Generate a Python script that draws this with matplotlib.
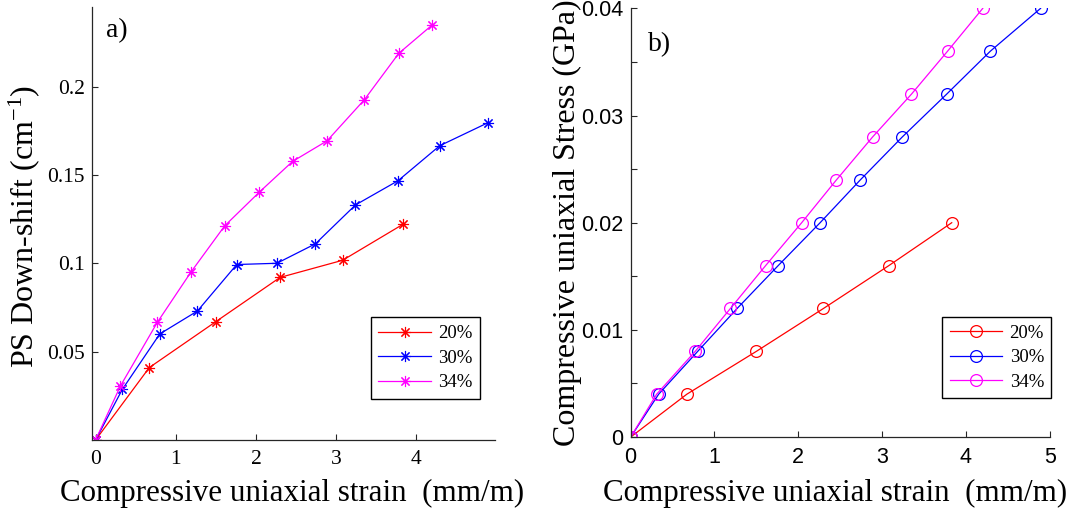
import matplotlib
matplotlib.use("Agg")
import matplotlib.pyplot as plt
from matplotlib.ticker import MultipleLocator

# strain (mm/m) for each porosity sample
strain_20 = [0, 0.67, 1.50, 2.30, 3.08, 3.83]
strain_30 = [0, 0.334, 0.80, 1.27, 1.76, 2.26, 2.74, 3.24, 3.77, 4.29, 4.89]
strain_34 = [0, 0.31, 0.77, 1.19, 1.61, 2.04, 2.455, 2.886, 3.35, 3.78, 4.20]

# a) PS down-shift (cm-1)
shift_20 = [0, 0.041, 0.067, 0.092, 0.1017, 0.122]
shift_30 = [0, 0.0287, 0.060, 0.073, 0.0993, 0.100, 0.111, 0.133, 0.1467, 0.1665, 0.1795]
shift_34 = [0, 0.0306, 0.0666, 0.0951, 0.1212, 0.1402, 0.1576, 0.1693, 0.1925, 0.2188, 0.235]

# b) applied stress (GPa)
stress_20 = [0, 0.004, 0.008, 0.012, 0.016, 0.020]
stress_30 = [0, 0.004, 0.008, 0.012, 0.016, 0.020, 0.024, 0.028, 0.032, 0.036, 0.040]
stress_34 = [0, 0.004, 0.008, 0.012, 0.016, 0.020, 0.024, 0.028, 0.032, 0.036, 0.040]

labels = ['20%', '30%', '34%']
colors = ['#ff0000', '#0000ff', '#ff00ff']

serif = 'Liberation Serif'
sans = 'Liberation Sans'
plt.rcParams['mathtext.fontset'] = 'custom'
plt.rcParams['mathtext.rm'] = serif
plt.rcParams['mathtext.it'] = serif + ':italic'

fig = plt.figure(figsize=(10.72, 5.13), dpi=100)
ax1 = fig.add_axes([0.0858, 0.1423, 0.376, 0.844])
ax2 = fig.add_axes([0.5883, 0.148, 0.391, 0.8357])

asterisk = (8, 2, 0)
for xs, ys, lab, c in zip([strain_20, strain_30, strain_34],
                          [shift_20, shift_30, shift_34], labels, colors):
    ax1.plot(xs, ys, color=c, lw=0.9, marker=asterisk, ms=8, mew=0.8, label=lab)

for xs, ys, lab, c in zip([strain_20, strain_30, strain_34],
                          [stress_20, stress_30, stress_34], labels, colors):
    ax2.plot(xs, ys, color=c, lw=0.9, marker='o', ms=8.5, mfc='none', mew=0.9, label=lab)

axis_col = '#262626'
for ax in (ax1, ax2):
    ax.spines['top'].set_visible(False)
    ax.spines['right'].set_visible(False)
    for s in ('left', 'bottom'):
        ax.spines[s].set_color(axis_col)
        ax.spines[s].set_linewidth(0.9)
    ax.tick_params(direction='in', length=4, width=0.8, color=axis_col, labelsize=15.5)
    ax.tick_params(axis='x', pad=7)
    ax.tick_params(axis='y', pad=5)

# panel a
ax1.set_xlim(-0.045, 4.98)
ax1.set_ylim(0, 0.245)
ax1.set_xticks([0, 1, 2, 3, 4])
ax1.set_yticks([0.05, 0.1, 0.15, 0.2])
ax1.set_yticklabels(['0.05', '0.1', '0.15', '0.2'])
for t in ax1.get_xticklabels() + ax1.get_yticklabels():
    t.set_fontfamily(serif)
ax1.set_xlabel('Compressive uniaxial strain  (mm/m)', fontsize=22.3, family=serif)
ax1.set_ylabel('PS Down-shift (cm$^{-1}$)', fontsize=23, family=serif)
ax1.xaxis.set_label_coords(0.496, -0.09)
ax1.yaxis.set_label_coords(-0.124, 0.493)
ax1.text(0.036, 0.93, 'a)', transform=ax1.transAxes, fontsize=20, family=serif)

# panel b
ax2.set_xlim(0, 5)
ax2.set_ylim(0, 0.04)
ax2.set_xticks([0, 1, 2, 3, 4, 5])
ax2.set_yticks([0, 0.01, 0.02, 0.03, 0.04])
ax2.set_yticklabels(['0', '0.01', '0.02', '0.03', '0.04'])
ax2.yaxis.set_minor_locator(MultipleLocator(0.005))
ax2.tick_params(which='minor', direction='in', length=4, width=0.8, color=axis_col)
for t in ax2.get_xticklabels() + ax2.get_yticklabels():
    t.set_fontfamily(sans)
ax2.set_xlabel('Compressive uniaxial strain  (mm/m)', fontsize=22.3, family=serif)
ax2.set_ylabel('Compressive uniaxial Stress (GPa)', fontsize=23, family=serif)
ax2.xaxis.set_label_coords(0.488, -0.098)
ax2.yaxis.set_label_coords(-0.116, 0.5)
ax2.text(0.042, 0.9, 'b)', transform=ax2.transAxes, fontsize=20, family=serif)

for ax, anchor in ((ax1, (0.963, 0.095)), (ax2, (1.004, 0.09))):
    leg = ax.legend(loc='lower right', bbox_to_anchor=anchor, fancybox=False,
                    framealpha=1, edgecolor='black', handlelength=2.8,
                    labelspacing=0.4, borderpad=0.4, handletextpad=0.4,
                    borderaxespad=0, prop={'family': serif, 'size': 13.5})
    leg.get_frame().set_linewidth(1.0)

fig.savefig('out.png', dpi=100)
